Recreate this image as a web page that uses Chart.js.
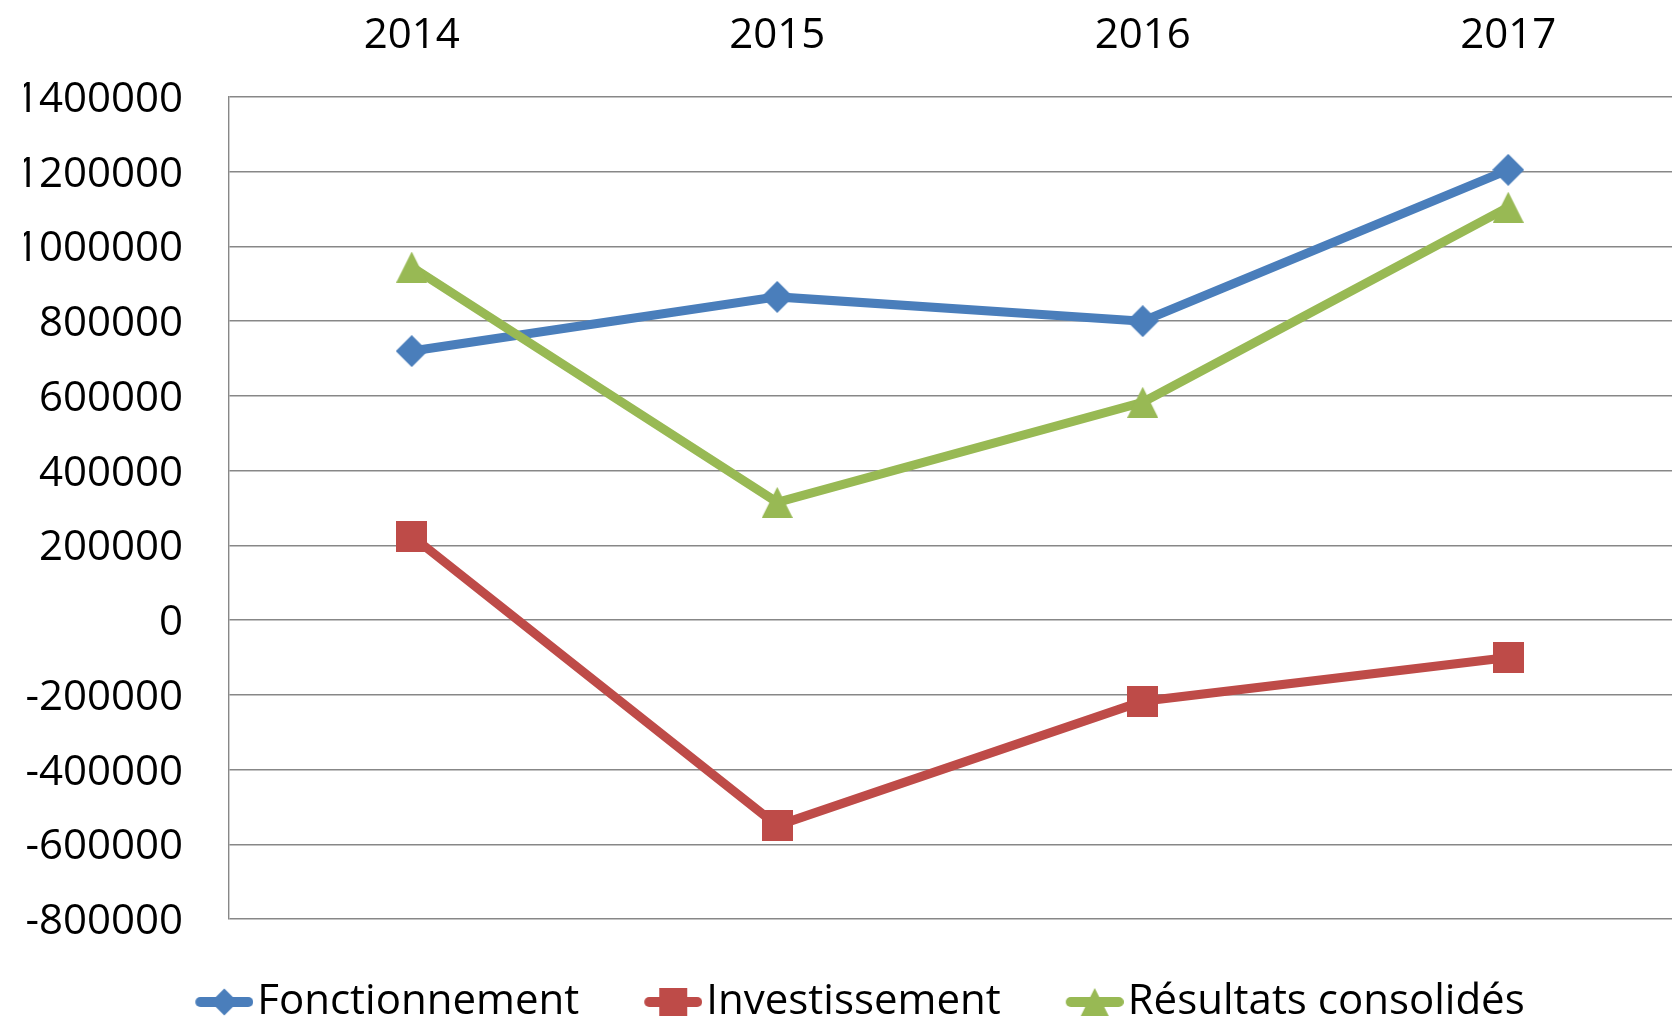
<!DOCTYPE html>
<html>
<head>
<meta charset="utf-8">
<script src="https://cdn.jsdelivr.net/npm/chart.js@4.4.1/dist/chart.umd.min.js"></script>
<style>
  html, body { margin: 0; padding: 0; background: #fff; overflow: hidden; }
  #wrap { width: 1704px; height: 1033px; }
</style>
</head>
<body>
<div id="wrap"><canvas id="chart" width="1704" height="1033"></canvas></div>
<script>
// data
const years = ['2014', '2015', '2016', '2017'];
const fonctionnement = [720000, 865000, 800000, 1205000];
const investissement = [225000, -550000, -217000, -100000];
const resultats = [945000, 315000, 583000, 1105000];
const seriesNames = ['Fonctionnement', 'Investissement', 'Résultats consolidés'];
const yMin = -800000, yMax = 1400000, yStep = 200000;

const FONT = "'Open Sans', sans-serif";
const BLUE = '#4A7EBB', RED = '#BE4B48', GREEN = '#98B954';
const GRID = '#878787';

function drawShape(g, shape, cx, cy, s) {
  const h = s / 2;
  g.beginPath();
  if (shape === 'diamond') {
    g.moveTo(cx, cy - h); g.lineTo(cx + h, cy); g.lineTo(cx, cy + h); g.lineTo(cx - h, cy);
  } else if (shape === 'square') {
    g.rect(cx - h, cy - h, s, s);
  } else {
    g.moveTo(cx, cy - h); g.lineTo(cx + h, cy + h); g.lineTo(cx - h, cy + h);
  }
  g.closePath();
  g.fill();
}

// marker drawn as an image so the shape sits centred like Excel's
function marker(shape, color, size) {
  const c = document.createElement('canvas');
  c.width = size; c.height = size;
  const g = c.getContext('2d');
  g.fillStyle = color;
  drawShape(g, shape, size / 2, size / 2, size);
  return c;
}

// legend symbol: short line with the marker on it (left part transparent = spacing)
const ICON_W = 78;
function legendIcon(shape, color, size) {
  const c = document.createElement('canvas');
  c.width = ICON_W; c.height = 40;
  const g = c.getContext('2d');
  g.strokeStyle = color;
  g.lineWidth = 10;
  g.lineCap = 'round';
  g.beginPath();
  g.moveTo(ICON_W - 53, 20); g.lineTo(ICON_W - 5, 20);
  g.stroke();
  g.fillStyle = color;
  drawShape(g, shape, ICON_W - 29, 20, size);
  return c;
}

const icons = [
  legendIcon('diamond', BLUE, 27),
  legendIcon('square', RED, 28),
  legendIcon('triangle', GREEN, 28)
];

const ctx = document.getElementById('chart').getContext('2d');
const chart = new Chart(ctx, {
  type: 'line',
  data: {
    labels: years,
    datasets: [
      {
        label: seriesNames[0],
        data: fonctionnement,
        borderColor: BLUE,
        backgroundColor: BLUE,
        borderWidth: 9,
        pointStyle: marker('diamond', BLUE, 32),
        order: 2
      },
      {
        label: seriesNames[1],
        data: investissement,
        borderColor: RED,
        backgroundColor: RED,
        borderWidth: 9,
        pointStyle: marker('square', RED, 31),
        order: 1
      },
      {
        label: seriesNames[2],
        data: resultats,
        borderColor: GREEN,
        backgroundColor: GREEN,
        borderWidth: 9,
        pointStyle: marker('triangle', GREEN, 31),
        order: 0
      }
    ]
  },
  options: {
    responsive: false,
    animation: false,
    layout: { padding: { left: 24, right: 11, top: 0, bottom: 0 } },
    scales: {
      x: {
        position: 'top',
        offset: true,
        grid: { display: false, drawTicks: false },
        border: { display: false },
        ticks: { color: '#000', font: { family: FONT, size: 42 }, padding: 36, maxRotation: 0 },
        afterFit: (scale) => { scale.height = 97; }
      },
      y: {
        min: yMin,
        max: yMax,
        ticks: {
          stepSize: yStep,
          color: '#000',
          font: { family: FONT, size: 42 },
          padding: 46,
          labelOffset: 3,
          callback: (v) => String(v)
        },
        grid: { color: GRID, lineWidth: 1.4, drawTicks: false },
        border: { display: true, color: GRID, width: 1.4 },
        afterFit: (scale) => { scale.width = 205; }
      }
    },
    plugins: {
      tooltip: { enabled: false },
      legend: {
        position: 'bottom',
        labels: {
          usePointStyle: true,
          pointStyleWidth: ICON_W - 34,
          padding: 62,
          color: '#000',
          font: { family: FONT, size: 42 },
          sort: (a, b) => a.datasetIndex - b.datasetIndex,
          generateLabels: (c) => {
            const items = Chart.defaults.plugins.legend.labels.generateLabels(c);
            items.forEach(it => { it.pointStyle = icons[it.datasetIndex]; it.lineWidth = 0; });
            return items;
          }
        }
      }
    }
  }
});
</script>
</body>
</html>
